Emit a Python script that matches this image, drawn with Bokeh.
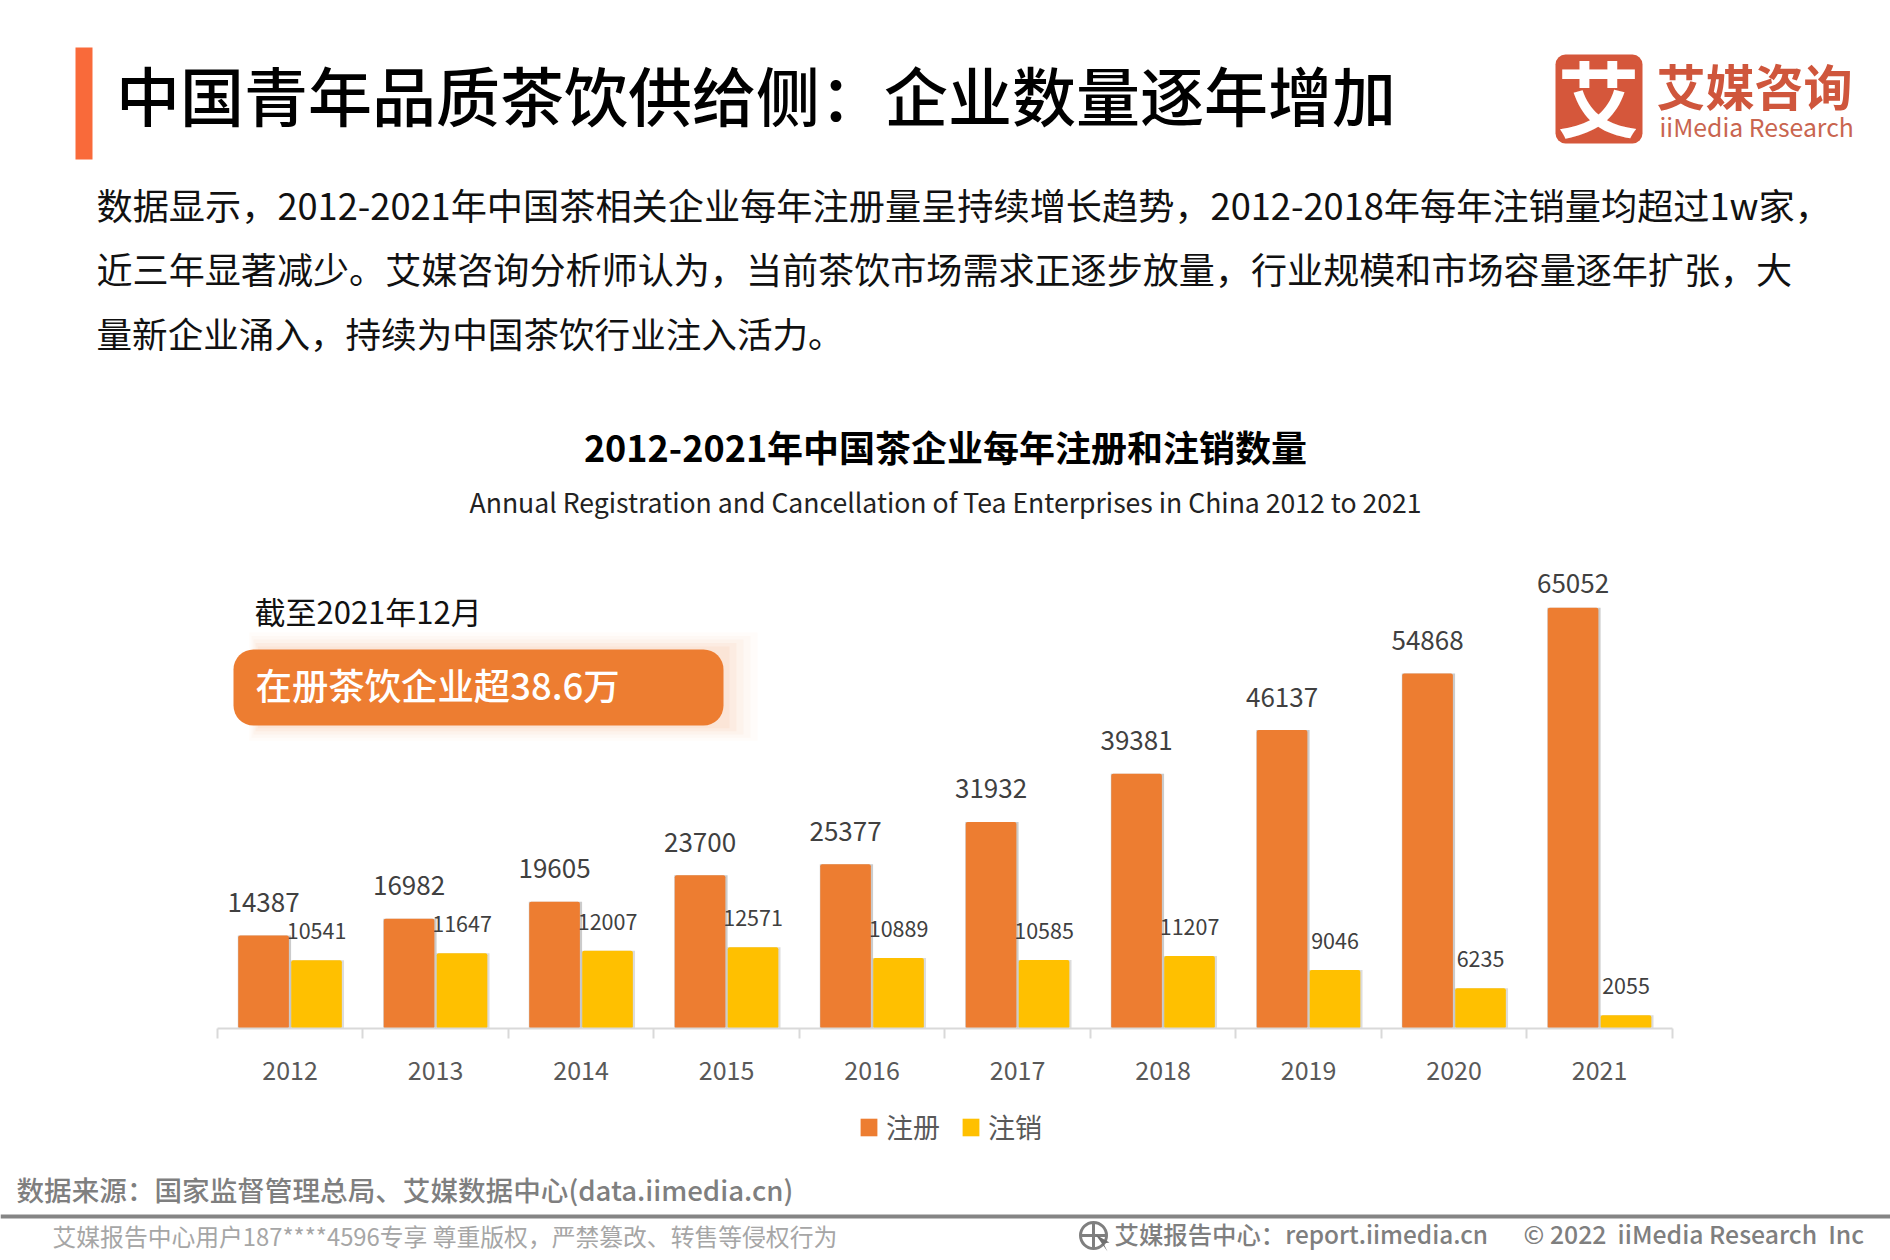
from bokeh.plotting import figure
from bokeh.models import Range1d, FixedTicker, Legend, LegendItem, ColumnDataSource, LinearAxis
from bokeh.core.properties import value
from bokeh.embed import file_html
from bokeh.resources import INLINE

years = ["2012", "2013", "2014", "2015", "2016", "2017", "2018", "2019", "2020", "2021"]
registered = [14387, 16982, 19605, 23700, 25377, 31932, 39381, 46137, 54868, 65052]
cancelled = [10541, 11647, 12007, 12571, 10889, 10585, 11207, 9046, 6235, 2055]
series_names = ["注册", "注销"]

title_text = "中国青年品质茶饮供给侧：企业数量逐年增加"
para_lines = [
    "数据显示，2012-2021年中国茶相关企业每年注册量呈持续增长趋势，2012-2018年每年注销量均超过1w家，",
    "近三年显著减少。艾媒咨询分析师认为，当前茶饮市场需求正逐步放量，行业规模和市场容量逐年扩张，大",
    "量新企业涌入，持续为中国茶饮行业注入活力。",
]
chart_title = "2012-2021年中国茶企业每年注册和注销数量"
chart_sub = "Annual Registration and Cancellation of Tea Enterprises in China 2012 to 2021"
note_text = "截至2021年12月"
callout_text = "在册茶饮企业超38.6万"
source_text = "数据来源：国家监督管理总局、艾媒数据中心(data.iimedia.cn)"
footer_left = "艾媒报告中心用户187****4596专享 尊重版权，严禁篡改、转售等侵权行为"
footer_mid = "艾媒报告中心：report.iimedia.cn"
footer_right = "© 2022\u00a0\u00a0iiMedia Research\u00a0\u00a0Inc"

ORANGE, YELLOW = "#ED7D31", "#FFC000"
FONT = "Noto Sans CJK SC"
MEDIUM = "Noto Sans CJK SC Medium"
W, H = 1890, 1260
frame_l, frame_r, base_y = 216.8, 1671.8, 1028
per_px = 154.6
n = len(years)
cat_px = (frame_r - frame_l) / n

p = figure(width=W, height=H, x_range=Range1d(0, W), y_range=Range1d(H, 0),
           x_axis_location=None, y_axis_location=None, toolbar_location=None,
           output_backend="svg", min_border=0, outline_line_color=None)
p.grid.visible = False
p.extra_x_ranges["idx"] = Range1d((0 - frame_l) / cat_px, (W - frame_l) / cat_px)
p.extra_y_ranges["val"] = Range1d((base_y - H) * per_px, base_y * per_px)


def put(x, y, s, size, color="#000000", align="left", style="normal", font=FONT):
    p.text([x], [y], text=[s], text_font=value(font), text_font_size=f"{size}px",
           text_color=color, text_align=align, text_baseline="middle", text_font_style=style)


# ---------- header ----------
p.quad(left=[75], right=[92], top=[47], bottom=[159], color="#F96A3A", line_color=None)
put(115.6, 92, title_text, 64, "#000000", font=MEDIUM)
for line, y, size in zip(para_lines, [203.5, 267.5, 331.5], [36.2, 36.1, 35.6]):
    put(96, y, line, size, "#111111")
put(945, 445.5, chart_title, 36, "#000000", "center", "bold")
put(945, 500.5, chart_sub, 26.6, "#222222", "center")

# logo
p.quad(left=[1555], right=[1642], top=[54], bottom=[143], color="#D5573B", line_color=None,
       border_radius=10)
put(1598, 95, "艾", 82, "#FFFFFF", "center", "bold")
put(1656, 84, "艾媒咨询", 49, "#CF563C", style="bold")
put(1659, 125.5, "iiMedia Research", 24.8, "#C9654F")

# ---------- chart ----------
pos = [i + 0.5 for i in range(n)]
BW, SHIFT = 0.348, 0.182
src = ColumnDataSource(dict(
    x0=[v - SHIFT for v in pos], x1=[v + SHIFT for v in pos],
    s0=[v - SHIFT + 0.006 for v in pos], s1=[v + SHIFT + 0.006 for v in pos],
    reg=registered, can=cancelled,
    reg_txt=[str(v) for v in registered], can_txt=[str(v) for v in cancelled],
))

# callout with soft glow
for d, a in [(34, .025), (27, .03), (20, .04), (13, .05), (6, .06)]:
    p.quad(left=[233 + 26 - d * .3], right=[723 + d], top=[649 - d * .5], bottom=[725 + d * .45],
           color=ORANGE, alpha=a, line_color=None)
p.quad(left=[233], right=[723], top=[649], bottom=[725], color=ORANGE, line_color=None,
       border_radius=20)
put(254, 609.5, note_text, 31, "#111111")
put(255, 683.5, callout_text, 36.4, "#FFFFFF", font=MEDIUM)

# bars with shadow
kw = dict(source=src, x_range_name="idx", y_range_name="val", line_color=None)
p.vbar(x="s0", top="reg", width=BW + 0.018, color="#8C8C8C", alpha=.45, **kw)
p.vbar(x="s1", top="can", width=BW + 0.018, color="#8C8C8C", alpha=.3, **kw)
r0 = p.vbar(x="x0", top="reg", width=BW, color=ORANGE, border_radius=2, **kw)
r1 = p.vbar(x="x1", top="can", width=BW, color=YELLOW, border_radius=2, **kw)

reg_offset = [-33, -33, -33, -33, -33, -33, -33, -33, -33, -24]
src.data["reg_off"] = reg_offset
tkw = dict(source=src, x_range_name="idx", y_range_name="val", text_font=value(FONT),
           text_color="#404040", text_align="center", text_baseline="middle")
p.text(x="x0", y="reg", text="reg_txt", y_offset="reg_off", text_font_size="26px", **tkw)
p.text(x="x1", y="can", text="can_txt", y_offset=-29, text_font_size="21.5px", **tkw)

ax = LinearAxis(x_range_name="idx", fixed_location=base_y, bounds=(0, n),
                ticker=FixedTicker(ticks=pos, minor_ticks=list(range(n + 1))))
ax.major_label_overrides = {v: y for v, y in zip(pos, years)}
ax.major_tick_line_color = None
ax.major_tick_out = 0
ax.major_tick_in = 0
ax.minor_tick_out = 10
ax.minor_tick_in = 0
ax.minor_tick_line_color = "#D9D9D9"
ax.minor_tick_line_width = 2
ax.axis_line_color = "#D9D9D9"
ax.axis_line_width = 2
ax.major_label_standoff = 22
ax.major_label_text_font = FONT
ax.major_label_text_font_size = "25px"
ax.major_label_text_color = "#595959"
p.add_layout(ax, "below")

legend = Legend(items=[LegendItem(label=series_names[0], renderers=[r0]),
                       LegendItem(label=series_names[1], renderers=[r1])],
                orientation="horizontal", location=(858, H - 1146),
                border_line_color=None, background_fill_alpha=0, padding=0, margin=0,
                glyph_width=21, glyph_height=22, label_standoff=7, spacing=20,
                label_text_font=FONT, label_text_font_size="27px", label_text_color="#595959")
p.add_layout(legend, "center")

# ---------- footer ----------
put(16, 1188, source_text, 27.6, "#7F7F7F", font=MEDIUM)
p.quad(left=[0], right=[W], top=[1214], bottom=[1218], color="#858585", line_color=None)
put(52, 1235, footer_left, 23.8, "#A6A6A6")
p.scatter([1093], [1235], marker="circle_cross", size=26, fill_color=None,
          line_color="#7F7F7F", line_width=3)
p.patch([1095, 1109, 1103, 1107], [1234, 1242, 1243, 1251], color="#6F6F6F", line_color=None)
put(1114, 1232.5, footer_mid, 24.4, "#7F7F7F", font=MEDIUM)
put(1523, 1232.5, footer_right, 24.8, "#7F7F7F", font=MEDIUM)

open("out.html", "w").write(file_html(p, INLINE))
